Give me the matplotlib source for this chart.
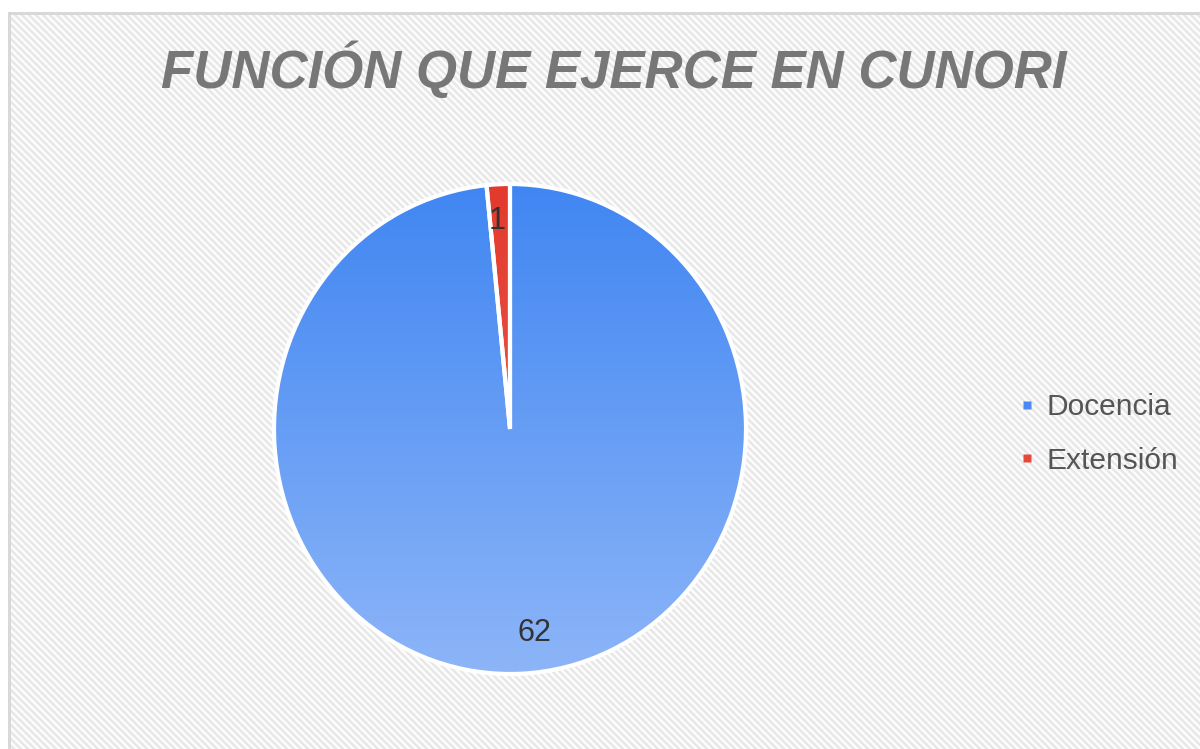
import numpy as np
import matplotlib
matplotlib.use("Agg")
import matplotlib.pyplot as plt
from matplotlib.lines import Line2D
from matplotlib.colors import LinearSegmentedColormap

title = "FUNCIÓN QUE EJERCE EN CUNORI"
categories = ["Docencia", "Extensión"]
values = [62, 1]

W, H = 1200, 749
plt.rcParams['font.family'] = ['Liberation Sans', 'DejaVu Sans']

fig = plt.figure(figsize=(W / 100, H / 100), dpi=100)

# ---- background: white with light diagonal stripes and a grey frame ----
bgax = fig.add_axes([0, 0, 1, 1])
yy, xx = np.mgrid[0:H, 0:W]
P = 7.0
s = 0.5 + 0.5 * np.cos(2 * np.pi * (xx - yy) / P)
lvl = 1.0 - 0.10 * s
img = np.dstack([lvl, lvl, lvl])
img[:12, :, :] = 1.0
img[:, :8, :] = 1.0
img[12:15, 8:, :] = 0.85
img[12:, 8:11, :] = 0.85
bgax.imshow(img, extent=(0, W, H, 0), interpolation='bilinear', aspect='auto')
bgax.set_xlim(0, W)
bgax.set_ylim(H, 0)
bgax.axis('off')

# ---- pie (slightly taller than wide, as in the reference) ----
cx, cy, Rx, Ry = 510, 429, 236, 245
pax = fig.add_axes([(cx - Rx) / W, 1 - (cy + Ry) / H, 2 * Rx / W, 2 * Ry / H])
total = sum(values)
wedges, texts, autotexts = pax.pie(
    values, radius=1, startangle=90, counterclock=False,
    colors=['#4a89f3', '#e8473b'],
    wedgeprops=dict(edgecolor='white', linewidth=3),
    autopct=lambda p: f"{int(round(p * total / 100))}", pctdistance=0.86,
    textprops=dict(color='#333333', fontsize=22))
pax.set_xlim(-1, 1)
pax.set_ylim(-1, 1)
pax.set_aspect('auto')
pax.axis('off')

grad = np.linspace(0, 1, 256).reshape(-1, 1)
cmaps = [LinearSegmentedColormap.from_list('b', ['#8db5f8', '#4086f2']),
         LinearSegmentedColormap.from_list('r', ['#ef6a5c', '#e23a2d'])]
for w, cm in zip(wedges, cmaps):
    im = pax.imshow(grad, extent=(-1, 1, -1, 1), origin='lower',
                    cmap=cm, aspect='auto', zorder=w.get_zorder() + 0.1)
    im.set_clip_path(w)
    w.set_facecolor('none')
    w.set_zorder(w.get_zorder() + 0.2)
for t in autotexts:
    t.set_zorder(10)
x0, y0 = autotexts[0].get_position()
autotexts[0].set_position((x0 + 0.06, y0 + 0.025))
x1, y1 = autotexts[1].get_position()
autotexts[1].set_position((x1 - 0.01, y1 - 0.01))

# ---- title ----
bgax.text(614, 70, title, ha='center', va='center', fontsize=38, fontweight='bold',
          fontstyle='italic', color='#777777', zorder=10)

# ---- legend ----
handles = [Line2D([], [], linestyle='none', marker='s', markersize=6,
                  markerfacecolor=c, markeredgecolor='none') for c in ['#4a89f3', '#e8473b']]
leg = bgax.legend(handles, categories, loc='center left',
                  bbox_to_anchor=(1008 / W, 1 - 434 / H), frameon=False, fontsize=21.5,
                  labelspacing=0.85, handlelength=0.5, handletextpad=0.4, borderaxespad=0)
for t in leg.get_texts():
    t.set_color('#555555')

fig.savefig('out.png', dpi=100)
